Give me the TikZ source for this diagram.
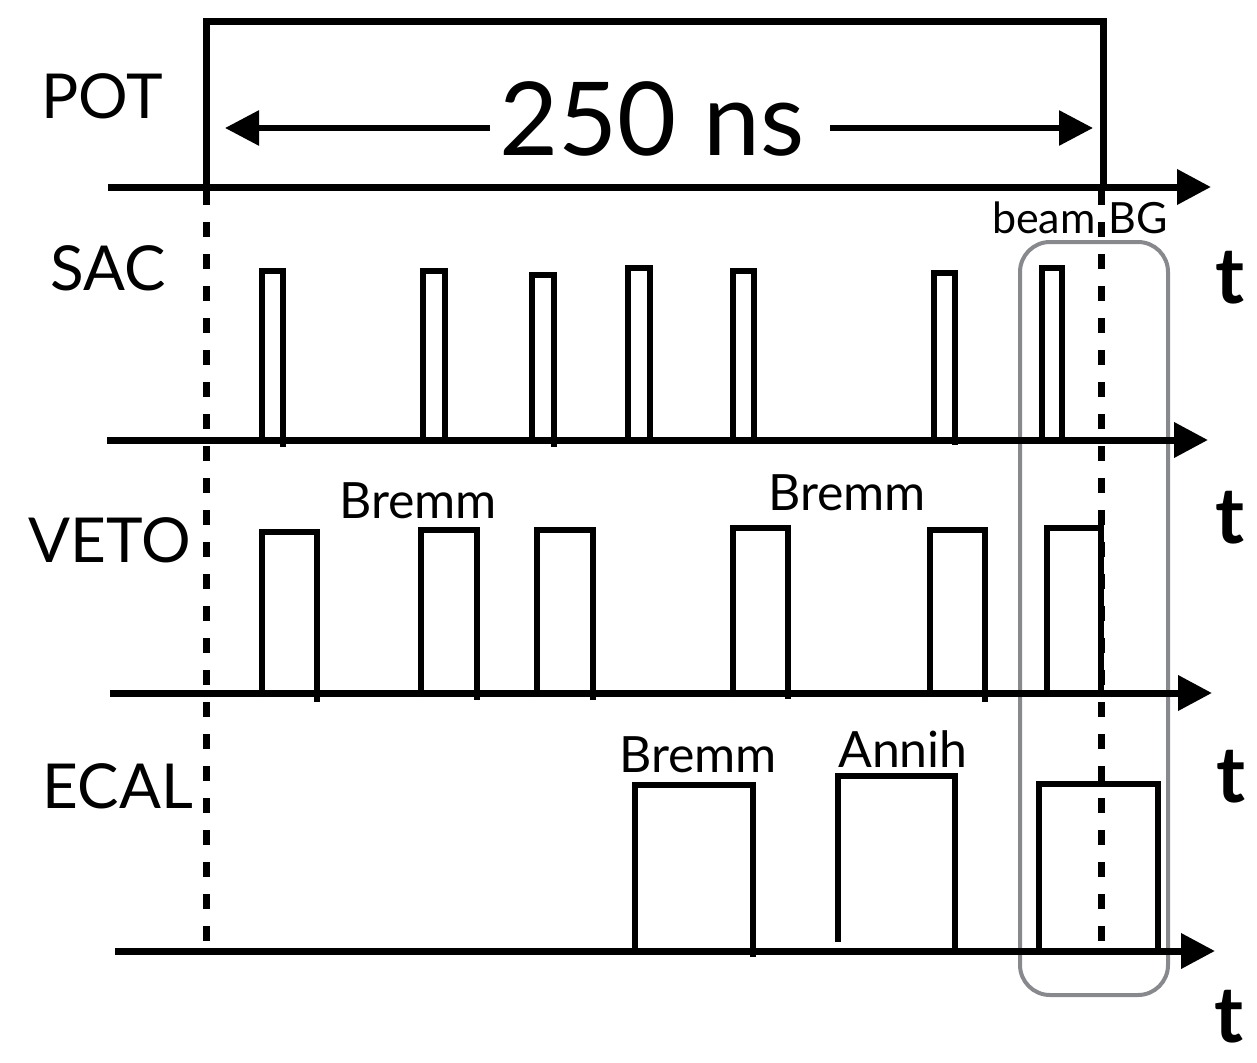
\documentclass[tikz,border=0pt]{standalone}
\usepackage{fontspec}
\setmainfont{Lato}
\usetikzlibrary{arrows.meta}
\definecolor{boxgray}{RGB}{135,137,141}
\begin{document}
\begin{tikzpicture}[x=1pt,y=-1pt,
  ax/.style={line width=7pt,-{Triangle[length=34pt,width=34pt]}},
  dimarrow/.style={line width=6pt,-{Triangle[length=34pt,width=34pt]}},
  pulse/.style={line width=6.5pt, line join=miter, line cap=butt},
  vdash/.style={line width=7pt, dash pattern=on 15pt off 17pt},
  lab/.style={font=\fontsize{62}{66}\selectfont, anchor=base, inner sep=0pt},
  tag/.style={font=\fontsize{50}{54}\selectfont, anchor=base, inner sep=0pt},
  tlab/.style={font=\fontsize{78}{82}\selectfont\bfseries, anchor=base, inner sep=0pt},
]
\useasboundingbox (0,0) rectangle (1257,1062);

% gray selection box
\draw[line width=4pt, draw=boxgray, rounded corners=30pt] (1020,242) rectangle (1168,995);

% POT gate
\draw[line width=7pt, line join=miter] (206,186) -- (206,22) -- (1103,22) -- (1103,186);

% SAC pulses (axis y=440)
\foreach \xl/\xr/\tp/\yr in {262/283/271/447, 423/445/271/440, 532/554/275/447, 628/650/268/440, 733/754/271/440, 934/955/273/445, 1042/1062/268/440}
  \draw[pulse] (\xl,440) -- (\xl,\tp) -- (\xr,\tp) -- (\xr,\yr);

% VETO pulses (axis y=693)
\foreach \xl/\xr/\tp/\yr in {262/317/532/702, 421/477/530/700, 537/593/530/700, 733/788/528/699, 930/985/530/702, 1047/1101/528/693}
  \draw[pulse] (\xl,697) -- (\xl,\tp) -- (\xr,\tp) -- (\xr,\yr);

% ECAL pulses (axis y=951)
\foreach \xl/\xr/\tp/\yl/\yr in {635/753/785/951/957, 838/955/776/942/951, 1039/1158/784/951/951}
  \draw[pulse] (\xl,\yl) -- (\xl,\tp) -- (\xr,\tp) -- (\xr,\yr);

% time axes
\draw[ax] (108,187) -- (1211,187);
\draw[ax] (107,440) -- (1208,440);
\draw[ax] (110,693) -- (1212,693);
\draw[ax] (115,951) -- (1215,951);

% dashed time window edges
\draw[vdash] (206,190) -- (206,951);
\draw[vdash] (1101,190) -- (1101,951);

% 250 ns dimension
\node[font=\fontsize{102}{110}\selectfont, anchor=base, inner sep=0pt] (dur) at (652,155) {250 ns};
\coordinate (lstart) at (490,128);
\coordinate (lend) at (225,128);
\coordinate (rstart) at (830,128);
\coordinate (rend) at (1093,128);
\draw[dimarrow] (lstart) -- (lend);
\draw[dimarrow] (rstart) -- (rend);

% channel labels
\node[lab] (pot) at (102,118) {POT};
\node[lab] (sac) at (108,290) {SAC};
\node[lab] (veto) at (110,562) {VETO};
\node[lab] (ecal) at (118,808) {ECAL};

% pulse tags
\node[tag] (b1) at (418,518) {Bremm};
\node[tag] (b2) at (847,510) {Bremm};
\node[tag] (b3) at (698,772) {Bremm};
\node[tag] (an) at (903,767) {Annih};
\node[font=\fontsize{43}{46}\selectfont, anchor=base, inner sep=0pt] (bg) at (1080,233) {beam\hspace{0.3em}BG};

% t labels
\node[tlab] (t1) at (1230,303) {t};
\node[tlab] (t2) at (1230,543) {t};
\node[tlab] (t3) at (1231,802) {t};
\node[tlab] (t4) at (1229,1042) {t};
\end{tikzpicture}
\end{document}
